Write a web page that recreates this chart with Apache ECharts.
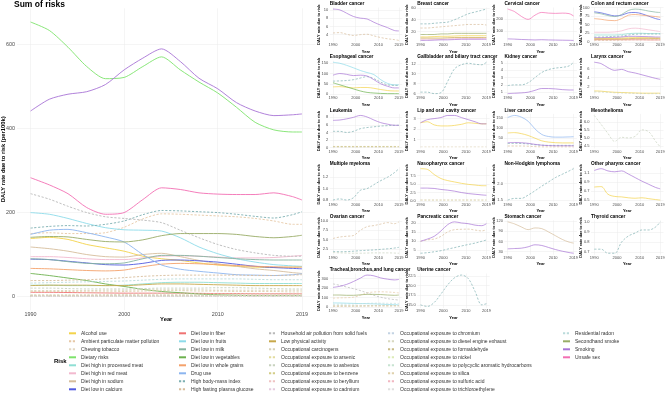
<!DOCTYPE html>
<html>
<head>
<meta charset="utf-8">
<script src="https://cdn.jsdelivr.net/npm/echarts@6/dist/echarts.min.js"></script>
<style>
html, body { margin: 0; padding: 0; background: #fff; }
#chart { width: 666px; height: 401px; }
</style>
</head>
<body>
<div id="chart"></div>
<script>
// years used by the small panels and by the big "Sum of risks" panel
const years = [1990, 1993, 1996, 1999, 2002, 2005, 2008, 2011, 2014, 2017, 2019];
const yearsMain = [1990, 1992, 1994, 1996, 1998, 2000, 2002, 2004, 2006, 2008, 2010, 2012, 2014, 2016, 2018, 2019];
const yearTicks = [1990, 2000, 2010, 2019];

const risks = [
  'Alcohol use', 'Ambient particulate matter pollution', 'Chewing tobacco', 'Dietary risks',
  'Diet high in processed meat', 'Diet high in red meat', 'Diet high in sodium', 'Diet low in calcium',
  'Diet low in fiber', 'Diet low in fruits', 'Diet low in milk', 'Diet low in vegetables',
  'Diet low in whole grains', 'Drug use', 'High body-mass index', 'High fasting plasma glucose',
  'Household air pollution from solid fuels', 'Low physical activity', 'Occupational carcinogens', 'Occupational exposure to arsenic',
  'Occupational exposure to asbestos', 'Occupational exposure to benzene', 'Occupational exposure to beryllium', 'Occupational exposure to cadmium',
  'Occupational exposure to chromium', 'Occupational exposure to diesel engine exhaust', 'Occupational exposure to formaldehyde', 'Occupational exposure to nickel',
  'Occupational exposure to polycyclic aromatic hydrocarbons', 'Occupational exposure to silica', 'Occupational exposure to sulfuric acid', 'Occupational exposure to trichloroethylene',
  'Residential radon', 'Secondhand smoke', 'Smoking', 'Unsafe sex'
];
const riskColors = [
  '#f3d34a', '#e6c8a6', '#e3d8c2', '#7de36b',
  '#8fdfd4', '#f2b9cf', '#d6bd9c', '#5059e0',
  '#ef7272', '#8ddbea', '#86b4a0', '#6cb14e',
  '#f4a16b', '#8cb5ef', '#7eb0b2', '#d8bd9c',
  '#b9b9b9', '#c8a84a', '#d7d1b6', '#e2db9f',
  '#c8d2bf', '#d3cd88', '#efc3c3', '#e5cbdf',
  '#c3d3e3', '#d8d8bf', '#c9bc88', '#dcebb7',
  '#c7e3d1', '#dfd1ad', '#f1b7c1', '#dfdfdf',
  '#bbdbdb', '#98ac66', '#a874d6', '#f36fb3'
];
const dashedRisks = [
  'Ambient particulate matter pollution', 'Chewing tobacco', 'High body-mass index', 'High fasting plasma glucose',
  'Household air pollution from solid fuels', 'Occupational carcinogens', 'Occupational exposure to arsenic',
  'Occupational exposure to asbestos', 'Occupational exposure to benzene', 'Occupational exposure to beryllium',
  'Occupational exposure to cadmium', 'Occupational exposure to chromium', 'Occupational exposure to diesel engine exhaust',
  'Occupational exposure to formaldehyde', 'Occupational exposure to nickel', 'Occupational exposure to polycyclic aromatic hydrocarbons',
  'Occupational exposure to silica', 'Occupational exposure to sulfuric acid', 'Occupational exposure to trichloroethylene',
  'Residential radon'
];

// Sum of risks (values at yearsMain)
const sumOfRisks = {
  'Alcohol use': [138, 141, 136, 124, 116, 108, 96, 90, 86, 80, 75, 72, 70, 69, 70, 71],
  'Ambient particulate matter pollution': [150, 152, 150, 150, 152, 165, 185, 197, 196, 194, 192, 190, 186, 180, 172, 172],
  'Chewing tobacco': [3, 3, 3, 3, 3, 3, 3.5, 3.5, 3.5, 3.5, 3.5, 3.5, 3.5, 3.5, 3.5, 3.5],
  'Dietary risks': [654, 634, 594, 548, 519, 522, 548, 571, 540, 511, 485, 451, 415, 397, 392, 392],
  'Diet high in processed meat': [27, 27, 26, 26, 26, 27, 30, 33, 34, 34, 33, 32, 31, 31, 31, 31],
  'Diet high in red meat': [95, 95, 93, 90, 88, 88, 92, 96, 97, 96, 94, 92, 92, 93, 96, 98],
  'Diet high in sodium': [118, 114, 108, 100, 95, 94, 100, 103, 95, 86, 78, 72, 66, 62, 57, 55],
  'Diet low in calcium': [89, 88, 84, 80, 76, 75, 79, 86, 87, 85, 82, 77, 72, 69, 67, 66],
  'Diet low in fiber': [10, 10, 9.5, 9, 8.5, 8, 8, 8, 8, 7.5, 7, 7, 6.5, 6.5, 6.5, 6.5],
  'Diet low in fruits': [200, 196, 186, 174, 164, 159, 158, 156, 140, 118, 102, 90, 82, 76, 73, 72],
  'Diet low in milk': [90, 88, 83, 79, 78, 80, 90, 98, 98, 96, 93, 90, 88, 87, 87, 87],
  'Diet low in vegetables': [55, 50, 44, 38, 30, 24, 17, 12, 9, 6, 4, 3, 2, 2, 2, 2],
  'Diet low in whole grains': [67, 66, 64, 62, 61, 63, 71, 77, 79, 78, 76, 74, 72, 71, 70, 70],
  'Drug use': [148, 158, 160, 152, 142, 130, 100, 75, 65, 60, 56, 52, 51, 50, 52, 54],
  'High body-mass index': [163, 167, 169, 168, 172, 180, 195, 205, 204, 202, 200, 196, 191, 187, 195, 202],
  'High fasting plasma glucose': [38, 38, 39, 40, 42, 45, 48, 50, 51, 51, 51, 51, 50, 50, 51, 52],
  'Household air pollution from solid fuels': [245, 232, 215, 200, 190, 186, 182, 176, 158, 140, 124, 112, 104, 98, 96, 96],
  'Low physical activity': [26, 27, 27, 27, 26, 26, 28, 30, 30, 29, 28, 27, 26, 26, 26, 26],
  'Occupational carcinogens': [14, 14, 14, 14, 15, 15, 16, 16, 16, 16, 15, 15, 15, 15, 15, 15],
  'Occupational exposure to arsenic': [2.5, 2.5, 2.5, 2.6, 2.6, 2.7, 2.8, 2.9, 2.9, 2.9, 2.8, 2.8, 2.7, 2.7, 2.7, 2.7],
  'Occupational exposure to asbestos': [20, 20, 19, 18, 18, 18, 19, 20, 20, 20, 21, 21, 20, 19, 18, 18],
  'Occupational exposure to benzene': [0.6, 0.6, 0.6, 0.6, 0.6, 0.6, 0.6, 0.6, 0.6, 0.6, 0.6, 0.6, 0.6, 0.6, 0.6, 0.6],
  'Occupational exposure to beryllium': [0.2, 0.2, 0.2, 0.2, 0.2, 0.2, 0.2, 0.2, 0.2, 0.2, 0.2, 0.2, 0.2, 0.2, 0.2, 0.2],
  'Occupational exposure to cadmium': [0.3, 0.3, 0.3, 0.3, 0.3, 0.3, 0.3, 0.3, 0.3, 0.3, 0.3, 0.3, 0.3, 0.3, 0.3, 0.3],
  'Occupational exposure to chromium': [0.4, 0.4, 0.4, 0.4, 0.4, 0.4, 0.4, 0.4, 0.4, 0.4, 0.4, 0.4, 0.4, 0.4, 0.4, 0.4],
  'Occupational exposure to diesel engine exhaust': [4, 4, 4, 4, 4.5, 5, 5.5, 6, 6, 6, 6, 6, 5.5, 5.5, 5.5, 5.5],
  'Occupational exposure to formaldehyde': [0.8, 0.8, 0.8, 0.8, 0.8, 0.8, 0.8, 0.8, 0.8, 0.8, 0.8, 0.8, 0.8, 0.8, 0.8, 0.8],
  'Occupational exposure to nickel': [1, 1, 1, 1, 1, 1.1, 1.1, 1.2, 1.2, 1.2, 1.2, 1.2, 1.1, 1.1, 1.1, 1.1],
  'Occupational exposure to polycyclic aromatic hydrocarbons': [1.5, 1.5, 1.5, 1.5, 1.6, 1.7, 1.8, 1.9, 1.9, 1.9, 1.8, 1.8, 1.7, 1.7, 1.7, 1.7],
  'Occupational exposure to silica': [12, 12, 12, 11, 11, 12, 13, 14, 14, 13, 13, 12, 12, 12, 11, 11],
  'Occupational exposure to sulfuric acid': [0.9, 0.9, 0.9, 0.9, 0.9, 0.9, 0.9, 0.9, 0.9, 0.9, 0.9, 0.9, 0.9, 0.9, 0.9, 0.9],
  'Occupational exposure to trichloroethylene': [0.1, 0.1, 0.1, 0.1, 0.1, 0.1, 0.1, 0.1, 0.1, 0.1, 0.1, 0.1, 0.1, 0.1, 0.1, 0.1],
  'Residential radon': [32, 33, 34, 35, 36, 37, 39, 41, 42, 42, 42, 42, 41, 40, 40, 40],
  'Secondhand smoke': [141, 143, 142, 136, 131, 130, 135, 145, 150, 150, 150, 148, 143, 140, 143, 146],
  'Smoking': [442, 470, 482, 488, 505, 540, 568, 590, 560, 520, 495, 462, 442, 431, 433, 435],
  'Unsafe sex': [283, 266, 245, 212, 196, 200, 231, 259, 255, 247, 244, 243, 243, 247, 238, 230]
};

// cancer panels (values at years)
const bladderCancer = {
  'High fasting plasma glucose': [4.4, 4.5, 4.1, 3.8, 4.0, 4.1, 3.7, 3.3, 3.0, 2.8, 2.6],
  'Smoking': [10.2, 10.0, 9.2, 8.4, 8.0, 7.8, 7.0, 6.3, 5.7, 5.0, 4.9]
};
const breastCancer = {
  'Alcohol use': [11, 11, 11.5, 12, 12, 12.5, 13, 13, 13, 13, 13],
  'Diet high in red meat': [7, 7, 7, 7, 7.5, 8, 8, 8, 8, 8, 8],
  'High body-mass index': [33, 33, 34, 35, 36, 40, 45, 50, 53, 56, 58],
  'High fasting plasma glucose': [26, 26, 27, 28, 29, 30, 31, 32, 32, 32, 31],
  'Low physical activity': [9, 9, 9, 9, 9.5, 10, 10, 10, 10, 10, 10],
  'Secondhand smoke': [15, 15, 15, 16, 16, 17, 17, 17, 17, 17, 17],
  'Smoking': [5, 5, 5.5, 6, 6, 6.5, 7, 7, 7, 7, 7]
};
const cervicalCancer = {
  'Smoking': [37, 35, 32, 30, 28, 30, 28, 27, 26, 25, 24],
  'Unsafe sex': [286, 265, 225, 200, 235, 258, 252, 250, 252, 248, 228]
};
const colonRectumCancer = {
  'Alcohol use': [10, 10, 10, 10, 11, 12, 12, 12, 12, 11, 11],
  'Diet high in processed meat': [20, 20, 20, 20, 21, 24, 25, 25, 24, 24, 24],
  'Diet high in red meat': [28, 28, 28, 29, 32, 38, 40, 38, 35, 32, 30],
  'Diet low in calcium': [88, 85, 80, 76, 78, 85, 86, 82, 75, 68, 65],
  'Diet low in fiber': [6, 6, 6, 6, 6, 6, 6, 6, 5.5, 5.5, 5.5],
  'Diet low in milk': [85, 82, 77, 74, 80, 92, 96, 94, 90, 87, 86],
  'Diet low in whole grains': [68, 66, 63, 62, 68, 78, 80, 78, 76, 74, 72],
  'High body-mass index': [14, 14, 15, 16, 17, 20, 22, 23, 23, 23, 23],
  'High fasting plasma glucose': [4, 4, 4, 4.5, 5, 5.5, 6, 6, 6, 6, 6],
  'Low physical activity': [8, 8, 8, 8, 8.5, 9, 10, 10, 10, 10, 10],
  'Smoking': [12, 12, 12.5, 13, 14, 16, 16, 15.5, 15, 14, 14]
};
const esophagealCancer = {
  'Alcohol use': [35, 36, 33, 30, 32, 32, 28, 22, 17, 15, 15],
  'Diet low in fruits': [155, 150, 140, 128, 115, 105, 95, 70, 52, 45, 45],
  'Diet low in vegetables': [55, 45, 35, 25, 15, 8, 5, 3, 2, 2, 2],
  'High body-mass index': [63, 64, 66, 70, 78, 85, 75, 58, 45, 42, 42],
  'Smoking': [92, 100, 96, 90, 92, 88, 70, 50, 38, 30, 30]
};
const gallbladderCancer = {
  'High body-mass index': [6.3, 6.3, 6.0, 6.2, 8.5, 11.0, 11.8, 12.1, 11.9, 11.8, 12.3]
};
const kidneyCancer = {
  'High body-mass index': [1.9, 2.0, 2.0, 2.3, 3.0, 3.7, 4.1, 4.3, 4.4, 4.6, 5.1],
  'Smoking': [0.8, 0.85, 0.9, 1.0, 1.25, 1.5, 1.5, 1.45, 1.35, 1.3, 1.3]
};
const larynxCancer = {
  'Alcohol use': [1.0, 0.95, 0.8, 0.7, 0.65, 0.6, 0.55, 0.5, 0.5, 0.5, 0.5],
  'Occupational exposure to asbestos': [0.8, 0.75, 0.7, 0.6, 0.55, 0.5, 0.45, 0.45, 0.4, 0.4, 0.4],
  'Smoking': [7.4, 7.1, 6.2, 5.6, 5.8, 5.3, 5.0, 4.6, 4.2, 3.8, 3.6]
};
const leukemia = {
  'High body-mass index': [4.3, 4.3, 4.0, 4.3, 5.0, 5.3, 5.5, 5.7, 5.8, 5.9, 5.9],
  'Occupational exposure to benzene': [0.3, 0.3, 0.3, 0.3, 0.3, 0.3, 0.3, 0.3, 0.3, 0.3, 0.3],
  'Occupational exposure to formaldehyde': [0.2, 0.2, 0.2, 0.2, 0.2, 0.2, 0.2, 0.2, 0.2, 0.2, 0.2],
  'Smoking': [7.2, 7.3, 7.6, 8.0, 8.5, 8.1, 7.3, 6.6, 6.2, 5.9, 5.9]
};
const lipOralCancer = {
  'Alcohol use': [2.6, 2.7, 2.4, 2.3, 2.3, 2.35, 2.45, 2.6, 2.55, 2.5, 2.5],
  'Chewing tobacco': [0.3, 0.3, 0.3, 0.3, 0.3, 0.3, 0.3, 0.3, 0.3, 0.3, 0.3],
  'Smoking': [2.6, 2.9, 3.0, 3.1, 3.3, 3.3, 3.1, 2.9, 2.7, 2.5, 2.5]
};
const liverCancer = {
  'Alcohol use': [75, 77, 72, 63, 50, 37, 31, 28, 27, 27, 27],
  'Drug use': [150, 160, 152, 132, 95, 68, 58, 55, 55, 56, 57],
  'High body-mass index': [24, 25, 24, 22, 18, 16, 15, 15, 15, 15, 15],
  'High fasting plasma glucose': [12, 12, 12, 11, 9, 8, 8, 8, 8, 8, 8],
  'Smoking': [28, 29, 28, 25, 20, 16, 14, 13, 13, 13, 13]
};
const mesothelioma = {
  'Occupational exposure to asbestos': [6.39, 5.84, 5.28, 4.79, 5.04, 5.0, 5.1, 5.5, 5.38, 4.79, 4.45]
};
const multipleMyeloma = {
  'High body-mass index': [0.8, 0.82, 0.8, 0.84, 0.97, 1.0, 1.07, 1.14, 1.2, 1.28, 1.35]
};
const nasopharynxCancer = {
  'Alcohol use': [9.5, 9.3, 7.8, 6.6, 6.0, 5.6, 5.2, 4.9, 4.7, 4.5, 4.5],
  'Occupational exposure to formaldehyde': [0.3, 0.3, 0.3, 0.3, 0.3, 0.3, 0.3, 0.3, 0.3, 0.3, 0.3],
  'Smoking': [3.8, 3.8, 3.7, 3.4, 3.2, 2.9, 2.5, 2.2, 2.0, 1.8, 1.7]
};
const nonHodgkinLymphoma = {
  'High body-mass index': [1.5, 1.55, 1.55, 1.65, 1.78, 1.92, 2.05, 2.18, 2.28, 2.38, 2.45]
};
const otherPharynxCancer = {
  'Alcohol use': [0.79, 0.8, 0.63, 0.58, 0.57, 0.55, 0.54, 0.55, 0.53, 0.51, 0.5],
  'Smoking': [1.16, 1.2, 1.15, 1.13, 1.15, 1.08, 1.0, 0.92, 0.85, 0.78, 0.75]
};
const ovarianCancer = {
  'High body-mass index': [1.8, 1.7, 1.75, 1.85, 2.0, 2.1, 2.2, 2.35, 2.5, 2.7, 2.9],
  'High fasting plasma glucose': [5.3, 5.7, 5.9, 6.1, 7.5, 8.5, 8.8, 9.2, 9.6, 9.3, 9.8],
  'Occupational exposure to asbestos': [1.5, 1.4, 1.35, 1.3, 1.3, 1.35, 1.4, 1.4, 1.4, 1.35, 1.3]
};
const pancreaticCancer = {
  'High body-mass index': [3.2, 3.5, 4.0, 4.6, 5.5, 6.3, 7.2, 8.0, 8.8, 9.8, 10.5],
  'High fasting plasma glucose': [9.8, 10.6, 11.0, 12.5, 15.0, 16.2, 16.4, 16.5, 16.0, 15.5, 16.2],
  'Smoking': [9.8, 11.0, 12.5, 15.5, 19.0, 20.5, 19.9, 19.5, 18.7, 18.4, 19.5]
};
const stomachCancer = {
  'Diet high in sodium': [118, 112, 103, 95, 100, 98, 88, 77, 66, 58, 55],
  'Smoking': [38, 39, 40, 44, 50, 48, 42, 36, 31, 27, 25]
};
const thyroidCancer = {
  'High body-mass index': [0.73, 0.73, 0.69, 0.69, 0.8, 0.86, 0.89, 0.92, 0.92, 0.95, 1.0]
};
const trachealLungCancer = {
  'Ambient particulate matter pollution': [95, 98, 100, 105, 125, 150, 160, 162, 160, 155, 150],
  'Diet low in fruits': [45, 44, 42, 40, 38, 37, 35, 32, 28, 26, 25],
  'High fasting plasma glucose': [8, 9, 10, 11, 12, 13, 14, 15, 15, 16, 16],
  'Household air pollution from solid fuels': [245, 230, 212, 195, 175, 150, 125, 105, 90, 80, 75],
  'Occupational exposure to asbestos': [18, 18, 17, 16, 16, 17, 18, 19, 19, 18, 18],
  'Occupational exposure to silica': [12, 12, 11, 11, 11, 12, 13, 13, 12, 12, 11],
  'Residential radon': [30, 31, 32, 34, 37, 40, 42, 42, 41, 40, 40],
  'Secondhand smoke': [128, 128, 125, 125, 130, 135, 135, 133, 128, 125, 128],
  'Smoking': [208, 220, 240, 270, 305, 338, 330, 308, 295, 287, 292]
};
const uterineCancer = {
  'High body-mass index': [15.0, 14.6, 15.6, 17.8, 20.2, 22.0, 22.7, 21.8, 18.5, 15.0, 15.3]
};

const panels = [
  ['Bladder cancer', bladderCancer, [4, 6, 8, 10]],
  ['Breast cancer', breastCancer, [20, 40, 60]],
  ['Cervical cancer', cervicalCancer, [100, 200]],
  ['Colon and rectum cancer', colonRectumCancer, [0, 25, 50, 75, 100]],
  ['Esophageal cancer', esophagealCancer, [0, 50, 100, 150]],
  ['Gallbladder and biliary tract cancer', gallbladderCancer, [6, 8, 10, 12]],
  ['Kidney cancer', kidneyCancer, [1, 2, 3, 4, 5]],
  ['Larynx cancer', larynxCancer, [0, 2, 4, 6]],
  ['Leukemia', leukemia, [0, 2, 4, 6, 8]],
  ['Lip and oral cavity cancer', lipOralCancer, [1, 2, 3]],
  ['Liver cancer', liverCancer, [0, 50, 100, 150]],
  ['Mesothelioma', mesothelioma, [4.5, 5.0, 5.5, 6.0]],
  ['Multiple myeloma', multipleMyeloma, [0.8, 1.0, 1.2]],
  ['Nasopharynx cancer', nasopharynxCancer, [0.0, 2.5, 5.0, 7.5]],
  ['Non-Hodgkin lymphoma', nonHodgkinLymphoma, [1.5, 2.0, 2.5]],
  ['Other pharynx cancer', otherPharynxCancer, [0.5, 0.7, 0.9, 1.1, 1.3]],
  ['Ovarian cancer', ovarianCancer, [2.5, 5.0, 7.5, 10.0]],
  ['Pancreatic cancer', pancreaticCancer, [5, 10, 15, 20]],
  ['Stomach cancer', stomachCancer, [30, 60, 90, 120]],
  ['Thyroid cancer', thyroidCancer, [0.7, 0.8, 0.9, 1.0]],
  ['Tracheal,bronchus,and lung cancer', trachealLungCancer, [0, 100, 200, 300]],
  ['Uterine cancer', uterineCancer, [15.0, 17.5, 20.0, 22.5]]
];
const mainTicks = [0, 200, 400, 600];

const font = 'Liberation Sans, Arial, sans-serif';
const chart = echarts.init(document.getElementById('chart'), null, { renderer: 'canvas' });

const grid = [], xAxis = [], yAxis = [], series = [], title = [];

function yRange(data) {
  let lo = Infinity, hi = -Infinity;
  Object.values(data).forEach(v => v.forEach(d => { lo = Math.min(lo, d); hi = Math.max(hi, d); }));
  const pad = (hi - lo) * 0.05;
  return [lo - pad, hi + pad];
}
function decimals(ticks) {
  return Math.max.apply(null, ticks.map(t => (String(t).split('.')[1] || '').length));
}
function lineType(name) {
  return dashedRisks.indexOf(name) >= 0 ? [2.2, 1.6] : 'solid';
}
function addSeries(gi, data, xs, width, smooth) {
  risks.forEach((name, k) => {
    if (!data[name]) return;
    series.push({
      type: 'line', name: name, xAxisIndex: gi, yAxisIndex: gi,
      data: xs.map((yr, i) => [yr, data[name][i]]),
      symbol: 'none', smooth: smooth, silent: true,
      lineStyle: { color: riskColors[k], width: width, type: lineType(name) },
      itemStyle: { color: riskColors[k] }
    });
  });
}
function addAxes(gi, ticks, range, sizes) {
  const dec = decimals(ticks);
  const shown = ticks.filter(t => t >= range[0] && t <= range[1]);
  xAxis.push({
    type: 'value', gridIndex: gi, min: 1988.55, max: 2020.45,
    name: 'Year', nameLocation: 'middle', nameGap: sizes.xNameGap, nameMoveOverlap: false,
    nameTextStyle: { fontSize: sizes.name, fontWeight: 'bold', color: '#000', fontFamily: font },
    axisLine: { show: false },
    axisTick: { show: false, customValues: yearTicks },
    axisLabel: { customValues: yearTicks, fontSize: sizes.tick, color: '#4d4d4d', margin: sizes.xMargin, fontFamily: font,
      formatter: v => String(Math.round(v)) },
    splitLine: { show: true, lineStyle: { color: '#ebebeb', width: 0.5 } }
  });
  yAxis.push({
    type: 'value', gridIndex: gi, min: range[0], max: range[1],
    name: sizes.yName, nameLocation: 'middle', nameGap: sizes.yNameGap, nameMoveOverlap: false,
    nameTextStyle: { fontSize: sizes.name, fontWeight: 'bold', color: '#000', fontFamily: font },
    axisLine: { show: false },
    axisTick: { show: false, customValues: shown },
    axisLabel: { customValues: shown, fontSize: sizes.tick, color: '#4d4d4d', margin: sizes.yMargin, fontFamily: font,
      formatter: v => Number(v).toFixed(dec) },
    splitLine: { show: true, lineStyle: { color: '#ebebeb', width: 0.5 } }
  });
}

// big panel
grid.push({ left: 17, top: 8.3, width: 298.5, height: 301.9, outerBoundsMode: 'none' });
addAxes(0, mainTicks, yRange(sumOfRisks), {
  tick: 5.4, name: 5.8, xNameGap: 6, xMargin: 1.5, yMargin: 2, yNameGap: 10.5,
  yName: 'DALY rate due to risk (per100k)'
});
addSeries(0, sumOfRisks, yearsMain, 0.9, 0.25);
title.push({ text: 'Sum of risks', left: 14, top: 0.5, padding: 0,
  textStyle: { fontSize: 8.5, fontWeight: 'bold', color: '#000', fontFamily: font } });

// small panels
const colLeft = [329.7, 417.2, 504.4, 591];
panels.forEach((p, i) => {
  const gi = i + 1;
  const col = i % 4, row = Math.floor(i / 4);
  const titleY = 4 + 53.2 * row;
  grid.push({ left: colLeft[col], top: titleY + 3.5, width: 72.5, height: 34.5, outerBoundsMode: 'none' });
  addAxes(gi, p[2], yRange(p[1]), {
    tick: 4, name: 4, xNameGap: 7.5, xMargin: 1, yMargin: 1.5, yNameGap: 8.5,
    yName: 'DALY rate due to risk'
  });
  addSeries(gi, p[1], years, 0.7, 0.35);
  title.push({ text: p[0], left: colLeft[col], top: titleY - 2.6, padding: 0,
    textStyle: { fontSize: 4.8, fontWeight: 'bold', color: '#000', fontFamily: font } });
});

title.push({ text: 'Risk', left: 54, top: 358, padding: 0,
  textStyle: { fontSize: 6, fontWeight: 'bold', color: '#000', fontFamily: font } });

const legendLeft = [68, 178, 268, 387, 562];
const legend = legendLeft.map((x, c) => ({
  orient: 'vertical', left: x, top: 329.3, padding: 0,
  data: risks.slice(c * 8, c * 8 + 8),
  itemWidth: 7, itemHeight: 1, itemGap: 0, selectedMode: false,
  itemStyle: { opacity: 0 },
  textStyle: { fontSize: 5, color: '#333', lineHeight: 8, fontFamily: font }
}));

chart.setOption({
  backgroundColor: '#fff',
  animation: false,
  title: title,
  legend: legend,
  grid: grid,
  xAxis: xAxis,
  yAxis: yAxis,
  series: series
});
</script>
</body>
</html>
